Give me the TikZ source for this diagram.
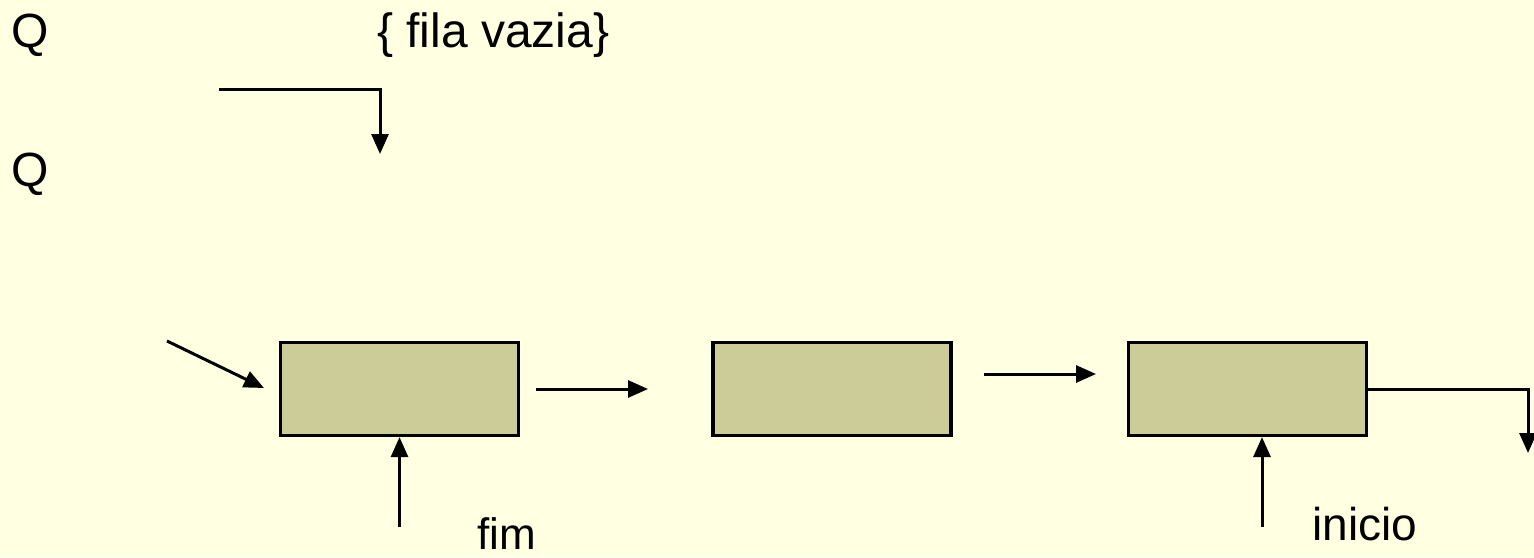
\documentclass[tikz,border=0pt]{standalone}
\usepackage{fontspec}
\setmainfont{Liberation Sans}
\usetikzlibrary{arrows.meta}
\definecolor{bg}{RGB}{255,255,225}
\definecolor{boxfill}{RGB}{204,204,153}
\tikzset{
  cell/.style={draw=black, line width=3.2pt, fill=boxfill, minimum width=238pt, minimum height=93pt, inner sep=0pt},
  conn/.style={line width=3pt, -{Triangle[length=20pt,width=17pt]}},
  bigtxt/.style={font=\fontsize{48}{52}\selectfont, inner sep=0pt, anchor=base west},
  smalltxt/.style={font=\fontsize{46}{50}\selectfont, inner sep=0pt, anchor=base west}
}
\begin{document}
\begin{tikzpicture}[x=1pt,y=-1pt]
\fill[bg] (0,0) rectangle (1534,557);
\useasboundingbox (0,0) rectangle (1534,557);
% texts
\node[bigtxt] (q1) at (11,47) {Q};
\node[bigtxt] (q2) at (11,186) {Q};
\node[bigtxt] (fv) at (377,47) {\{ fila vazia\}};
\node[font=\fontsize{44}{48}\selectfont, inner sep=0pt, anchor=base west] (fim) at (477,549) {fim};
\node[smalltxt] (ini) at (1312,540) {inicio};
% boxes
\node[cell] (b1) at (399.5,389) {};
\node[cell] (b2) at (832,389) {};
\node[cell] (b3) at (1247.5,389) {};
% free ends
\coordinate (t0) at (219,89);
\coordinate (t1) at (380,154);
\coordinate (d0) at (167,341);
\coordinate (d1) at (264,388);
\coordinate (a0) at (536,389);
\coordinate (a1) at (648,389);
\coordinate (c0) at (984,374);
\coordinate (c1) at (1096,374);
\coordinate (o1) at (1528,453);
\coordinate (f0) at (399.5,527);
\coordinate (i0) at (1262,527);
% connectors
\draw[conn] (t0) -| (t1);
\draw[conn] (d0) -- (d1);
\draw[conn] (a0) -- (a1);
\draw[conn] (c0) -- (c1);
\draw[conn] (b3.east) -| (o1);
\draw[conn] (f0) -- (b1.south);
\draw[conn] (i0) -- (i0 |- b3.south);
\end{tikzpicture}
\end{document}
